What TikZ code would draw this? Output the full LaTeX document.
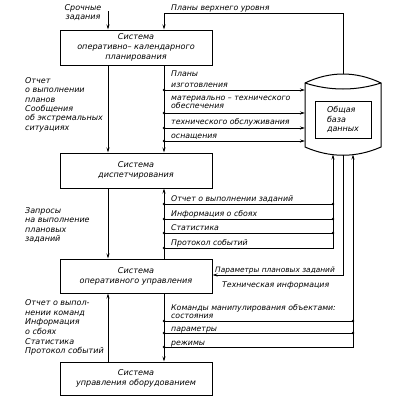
\documentclass[tikz,border=0pt]{standalone}
\usepackage{fontspec}
\setmainfont{DejaVu Sans}
\usetikzlibrary{arrows.meta}
\newcommand\dfont{\fontsize{7.8}{10}\selectfont\itshape}
\newcommand\bfontx{\fontsize{8.1}{10}\selectfont\itshape}
\newcommand\lfont{\fontsize{8.0}{9.3}\selectfont\itshape}
\begin{document}
\begin{tikzpicture}[x=1pt,y=-1pt,
  sysbox/.style={draw,line width=1pt,minimum width=152pt,inner sep=0pt,align=center,font=\bfontx},
  con/.style={line width=0.8pt},
  arr/.style={line width=0.8pt,-{Stealth[length=5pt,width=3pt]}},
  lbl/.style={font=\dfont,inner sep=0pt,anchor=base west},
  lblock/.style={font=\lfont,inner sep=0pt,anchor=north west,align=left},
  dot/.style={fill=black}
]
\useasboundingbox (0,0) rectangle (404,402);

% boxes
\node[sysbox,minimum height=35pt] (b1) at (136,47.5) {Система\\оперативно– календарного\\планирования};
\node[sysbox,minimum height=35pt] (b2) at (136,170.5) {Система\\диспетчирования};
\node[sysbox,minimum height=34pt] (b3) at (136,276) {Система\\оперативного управления};
\node[sysbox,minimum height=33pt] (b4) at (136,378.5) {Система\\управления оборудованием};

% database cylinder
\draw[line width=1pt] (305,83) .. controls (330,71) and (356,71) .. (381,83) -- (381,147)
  .. controls (356,158) and (330,158) .. (305,147) -- cycle;
\draw[line width=1pt] (305,83) .. controls (330,91) and (356,91) .. (381,83);
\node[draw,line width=1pt,minimum width=56pt,minimum height=37pt,inner sep=0pt,align=left,font=\lfont] (db) at (343,119.5) {Общая\\база\\данных};

% coordinates
\coordinate (sz) at (108,11);
\coordinate (pv) at (164,13);
\coordinate (ct) at (343,74);
\coordinate (cb1) at (333,154.5);
\coordinate (cb2) at (343,155.2);
\coordinate (cb3) at (353,154.5);
\coordinate (r) at (164,0);

% top inputs
\draw[arr] (sz) -- (b1.north -| sz);
\draw[arr] (ct) |- (pv) -- (b1.north -| pv);

% box1 -> box2
\draw[arr] (b1.south -| sz) -- (b2.north -| sz);
\draw[arr] (b1.south -| r) -- (b2.north -| r);
\foreach \y/\n in {90/1,113/2,128/3,141/4}{
  \coordinate (a\n) at (164,\y);
  \coordinate (e\n) at (305,\y);
  \draw[arr] (a\n) -- (e\n);
  \fill[dot] (a\n) circle (1.3pt);
}

% box2 <-> box3
\draw[arr] (b2.south -| sz) -- (b3.north -| sz);
\draw[arr] (b3.north -| r) -- (b2.south -| r);
\foreach \y/\n in {204/1,219/2,233/3,248/4}{
  \coordinate (f\n) at (164,\y);
  \coordinate (g\n) at (333,\y);
  \fill[dot] (f\n) circle (1.3pt);
}
\draw[con] (f1) -- (g1);
\draw[con] (f2) -- (g2);
\draw[con] (f3) -- (g3);
\draw[arr] (f4) -- (g4) -- (cb1);
\foreach \n in {1,2,3}{\fill[dot] (g\n) circle (1.3pt);}

% database -> box3
\coordinate (pp) at (343,275);
\draw[arr] (cb2) -- (pp) -- (b3.east |- pp);

% box3 <-> box4
\draw[arr] (b4.north -| sz) -- (b3.south -| sz);
\draw[arr] (b3.south -| r) -- (b4.north -| r);
\foreach \y/\n in {321/1,333/2,347/3}{
  \coordinate (h\n) at (164,\y);
  \coordinate (k\n) at (353,\y);
  \fill[dot] (h\n) circle (1.3pt);
}
\draw[con] (h1) -- (k1);
\draw[con] (h2) -- (k2);
\draw[arr] (h3) -- (k3) -- (cb3);
\foreach \n in {1,2}{\fill[dot] (k\n) circle (1.3pt);}

% labels
\node[font=\lfont,inner sep=0pt,align=center] (tsz) at (83,12.5) {Срочные\\задания};
\node[lbl] (tpv) at (171,10) {Планы верхнего уровня};
\node[lblock] (tl1) at (25,77.5) {Отчет\\о выполнении\\планов\\Сообщения\\об экстремальных\\ситуациях};
\node[lblock] (tl2) at (25,207.5) {Запросы\\на выполнение\\плановых\\заданий};
\node[lblock,font=\fontsize{8.0}{9.6}\selectfont\itshape] (tl3) at (25,299.5) {Отчет о выпол-\\нении команд\\Информация\\о сбоях\\Статистика\\Протокол событий};

\node[lbl] (r1) at (171,76) {Планы};
\node[lbl] (r2) at (171,87) {изготовления};
\node[lbl] (r3) at (171,100) {материально – технического};
\node[lbl] (r4) at (171,108.5) {обеспечения};
\node[lbl] (r5) at (171,124.5) {технического обслуживания};
\node[lbl] (r6) at (171,138) {оснащения};

\node[lbl] (s1) at (171,201.5) {Отчет о выполнении заданий};
\node[lbl] (s2) at (171,216.5) {Информация о сбоях};
\node[lbl] (s3) at (171,230.5) {Статистика};
\node[lbl] (s4) at (171,245.5) {Протокол событий};

\node[lbl,font=\fontsize{7.4}{9}\selectfont\itshape] (u1) at (215,272) {Параметры плановых заданий};
\node[lbl] (u2) at (222,287.5) {Техническая информация};

\node[lbl] (v1) at (171,310) {Команды манипулирования объектами:};
\node[lbl] (v2) at (171,318.5) {состояния};
\node[lbl] (v3) at (171,331) {параметры};
\node[lbl] (v4) at (171,345) {режимы};
\end{tikzpicture}
\end{document}
